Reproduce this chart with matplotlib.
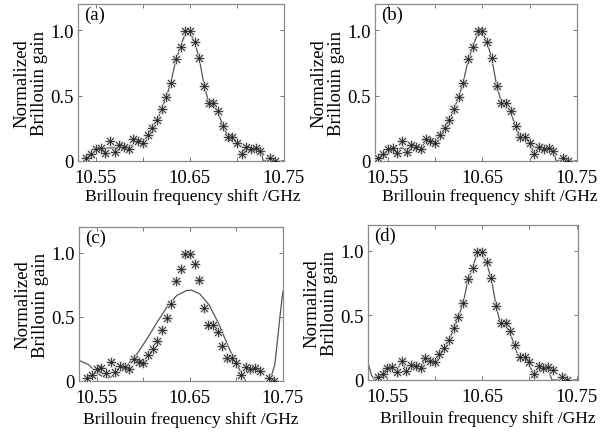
import numpy as np
import matplotlib
matplotlib.use("Agg")
import matplotlib.pyplot as plt

plt.rcParams['font.family'] = ['Liberation Serif', 'DejaVu Serif']

# Measured data (markers), frequency in GHz
freq = [10.540, 10.545, 10.550, 10.555, 10.560, 10.565, 10.570, 10.575, 10.580, 10.585,
        10.590, 10.595, 10.600, 10.605, 10.610, 10.615, 10.620, 10.625, 10.630, 10.635,
        10.640, 10.645, 10.650, 10.655, 10.660, 10.665, 10.670, 10.675, 10.680, 10.685,
        10.690, 10.695, 10.700, 10.705, 10.710, 10.715, 10.720, 10.725, 10.730, 10.735,
        10.740]
gain = [0.02, 0.05, 0.09, 0.10, 0.06, 0.15, 0.07, 0.12, 0.11, 0.09,
        0.17, 0.15, 0.14, 0.20, 0.25, 0.31, 0.40, 0.49, 0.60, 0.78,
        0.87, 0.99, 0.99, 0.91, 0.79, 0.57, 0.44, 0.44, 0.38, 0.27,
        0.18, 0.18, 0.14, 0.05, 0.11, 0.09, 0.10, 0.08, np.nan, 0.02,
        0.00]

# Fitted / reconstructed curves
line_a_f = [10.538, 10.540, 10.545, 10.550, 10.555, 10.560, 10.565, 10.570, 10.575, 10.580,
            10.585, 10.590, 10.595, 10.600, 10.605, 10.610, 10.615, 10.620, 10.625, 10.630,
            10.635, 10.640, 10.645, 10.650, 10.655, 10.660, 10.665, 10.670, 10.675, 10.680,
            10.685, 10.690, 10.695, 10.700, 10.705, 10.710, 10.715, 10.720, 10.725, 10.728,
            10.750]
line_a_g = [0.00, 0.01, 0.05, 0.08, 0.10, 0.10, 0.10, 0.10, 0.10, 0.10,
            0.10, 0.13, 0.14, 0.15, 0.19, 0.25, 0.31, 0.40, 0.49, 0.61,
            0.77, 0.88, 0.97, 0.98, 0.91, 0.78, 0.58, 0.45, 0.43, 0.37,
            0.27, 0.19, 0.17, 0.14, 0.11, 0.10, 0.10, 0.10, 0.09, 0.00,
            0.00]

line_b_f = line_a_f
line_b_g = [0.00, 0.01, 0.05, 0.08, 0.10, 0.09, 0.10, 0.09, 0.11, 0.10,
            0.10, 0.15, 0.15, 0.14, 0.19, 0.25, 0.31, 0.40, 0.49, 0.61,
            0.77, 0.88, 0.97, 0.98, 0.91, 0.78, 0.58, 0.45, 0.43, 0.37,
            0.27, 0.18, 0.17, 0.14, 0.05, 0.10, 0.09, 0.10, 0.08, 0.00,
            0.00]

line_c_f = [10.528, 10.5332, 10.5412, 10.5482, 10.5553, 10.5623, 10.5693, 10.5763, 10.5834,
            10.5939, 10.6044, 10.6150, 10.6255, 10.6360, 10.6465, 10.6518, 10.6605, 10.6710,
            10.6816, 10.6920, 10.7026, 10.7097, 10.7160, 10.7220, 10.7290, 10.7360, 10.7412,
            10.7447, 10.7482, 10.7500]
line_c_g = [0.17, 0.154, 0.128, 0.077, 0.038, 0.026, 0.038, 0.077, 0.128,
            0.218, 0.333, 0.460, 0.577, 0.667, 0.705, 0.708, 0.680, 0.590,
            0.436, 0.256, 0.100, 0.000, -0.100, -0.140, -0.100, 0.000, 0.128,
            0.360, 0.600, 0.700]

line_d_f = [10.5294, 10.533, 10.5365, 10.540, 10.545, 10.550, 10.555, 10.560, 10.565, 10.570,
            10.575, 10.580, 10.585, 10.590, 10.595, 10.600, 10.605, 10.610, 10.615, 10.620,
            10.625, 10.630, 10.635, 10.640, 10.645, 10.650, 10.655, 10.660, 10.665, 10.670,
            10.675, 10.680, 10.685, 10.690, 10.695, 10.700, 10.705, 10.710, 10.715, 10.720,
            10.724, 10.750]
line_d_g = [0.14, 0.04, 0.00, 0.01, 0.04, 0.09, 0.10, 0.07, 0.15, 0.07,
            0.11, 0.10, 0.09, 0.16, 0.15, 0.14, 0.18, 0.25, 0.31, 0.39,
            0.49, 0.59, 0.77, 0.87, 0.98, 0.98, 0.90, 0.78, 0.57, 0.42,
            0.42, 0.36, 0.25, 0.15, 0.15, 0.12, 0.03, 0.08, 0.09, 0.08,
            0.00, 0.00]

xticks = [10.55, 10.60, 10.65, 10.70, 10.75]
xticklabels = ['10.55', '', '10.65', '', '10.75']
yticks = [0, 0.5, 1.0]
yticklabels = ['0', '0.5', '1.0']
panel_labels = ['(a)', '(b)', '(c)', '(d)']

W, H = 615, 435
fig = plt.figure(figsize=(W / 100, H / 100), dpi=100)
fig.patch.set_facecolor('white')

def rect(l, r, t, b):
    return [l / W, 1 - b / H, (r - l) / W, (b - t) / H]

axes_rects = [rect(78, 284, 5, 162), rect(375, 577, 5, 162),
              rect(79, 283, 228, 382), rect(368, 578, 226, 381)]
xlims = [(10.531, 10.75), (10.5365, 10.75), (10.531, 10.75), (10.5295, 10.7515)]
lines = [(line_a_f, line_a_g), (line_b_f, line_b_g), (line_c_f, line_c_g), (line_d_f, line_d_g)]
xlabel_x = [0.556, 0.57, 0.55, 0.57]

FS = 13.5
marker = (8, 2, 0)
for i, r in enumerate(axes_rects):
    ax = fig.add_axes(r)
    lf, lg = lines[i]
    ax.plot(lf, lg, color='#555555', lw=0.9, zorder=2)
    ax.plot(freq, gain, ls='none', marker=marker, ms=7.5, mew=1.3,
            mec='#cfcfcf', zorder=3)
    ax.plot(freq, gain, ls='none', marker=marker, ms=6.5, mew=0.5,
            mec='#444444', zorder=4)
    ax.plot(freq, gain, ls='none', marker='o', ms=1.6, mew=0,
            mfc='#222222', zorder=5)
    ax.set_xlim(*xlims[i])
    ax.set_ylim(0, 1.2)
    ax.set_xticks(xticks)
    ax.set_xticklabels(xticklabels, fontsize=FS)
    ax.set_yticks(yticks)
    ax.set_yticklabels(yticklabels, fontsize=FS)
    ax.tick_params(direction='in', length=3, width=0.7, color='#777777',
                   top=True, right=True, pad=3)
    ax.tick_params(axis='x', pad=6)
    for s in ax.spines.values():
        s.set_color('#8a8a8a')
        s.set_linewidth(0.9)
    ax.set_xlabel('Brillouin frequency shift /GHz', fontsize=12.6)
    ax.xaxis.set_label_coords(xlabel_x[i], -0.175 if i < 2 else -0.195)
    ax.set_ylabel('Normalized\nBrillouin gain', fontsize=FS, linespacing=1.0, labelpad=2)
    ax.text(0.03, 0.99, panel_labels[i], transform=ax.transAxes, fontsize=FS,
            va='top', ha='left')

fig.savefig('out.png', dpi=100, facecolor='white')
